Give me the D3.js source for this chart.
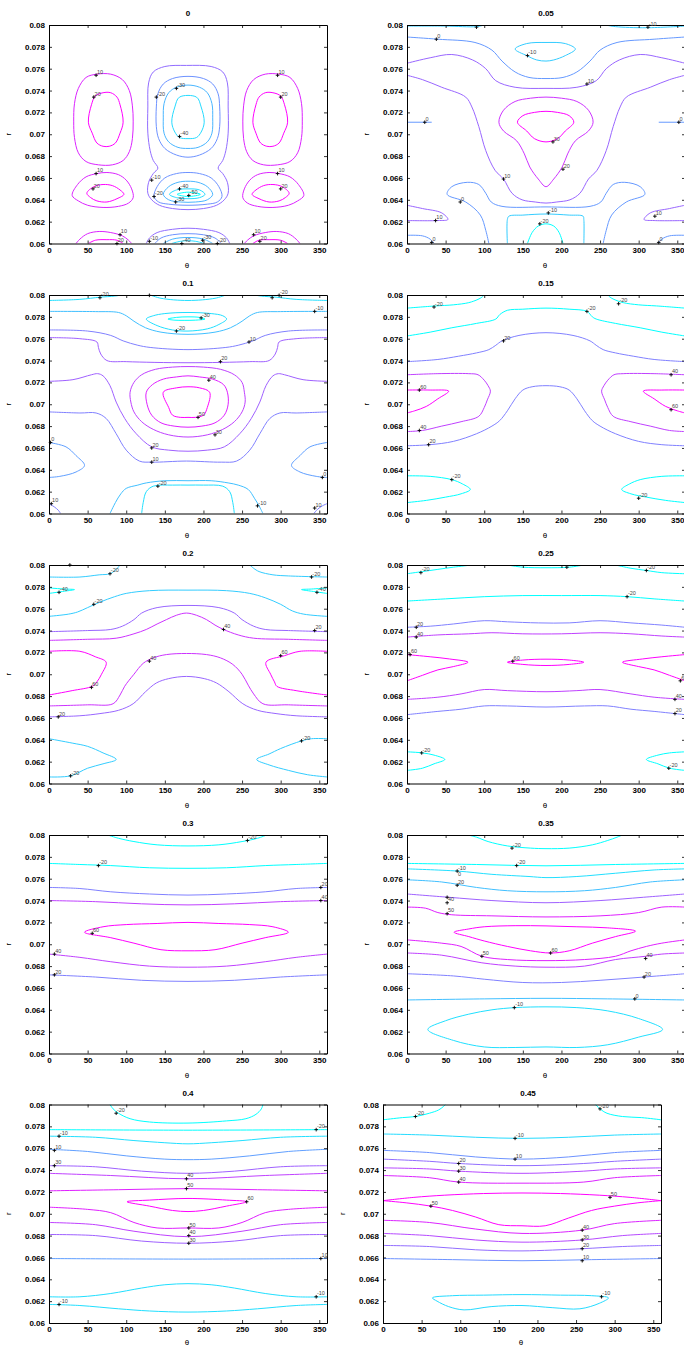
<!DOCTYPE html>
<html><head><meta charset="utf-8">
<script src="https://cdn.jsdelivr.net/npm/d3@7"></script>
<style>body{margin:0;background:#fff}svg{display:block}</style>
</head><body>
<script>
// ---------- DATA ----------
const panelTitles = ["0","0.05","0.1","0.15","0.2","0.25","0.3","0.35","0.4","0.45"];
const thetaTicks = [0,50,100,150,200,250,300,350];
const rTicks = [0.06,0.062,0.064,0.066,0.068,0.07,0.072,0.074,0.076,0.078,0.08];
const rTickLabels = ["0.06","0.062","0.064","0.066","0.068","0.07","0.072","0.074","0.076","0.078","0.08"];
// colour limits (value range) of each panel
const levelRange = [[-50,20],[-20,30],[-30,50],[-20,60],[-40,60],[-20,60],[-20,60],[-20,60],[-20,60],[-20,50]];

// contour lines: [level, closed, [[theta, r], ...]]
const contours0 = [
 [10,1,[[32,0.0712],[33,0.0728],[38,0.0742],[48,0.0752],[62,0.0755],[80,0.0755],[95,0.0750],[104,0.0740],[108,0.0726],[109,0.0712],[108,0.0696],[104,0.0684],[96,0.0676],[82,0.0672],[64,0.0672],[48,0.0675],[38,0.0683],[33,0.0697]]],
 [20,1,[[51,0.0711],[55,0.0727],[60,0.0735],[70,0.0738],[80,0.0738],[88,0.0734],[92,0.0727],[96,0.0711],[92,0.0701],[86,0.0692],[78,0.0689],[70,0.0689],[62,0.0692],[56,0.0701]]],
 [10,1,[[251,0.0712],[252,0.0726],[256,0.0740],[265,0.0750],[280,0.0755],[298,0.0755],[312,0.0752],[322,0.0742],[327,0.0728],[328,0.0712],[327,0.0697],[322,0.0683],[312,0.0675],[296,0.0672],[278,0.0672],[264,0.0676],[256,0.0684],[252,0.0696]]],
 [20,1,[[264,0.0711],[268,0.0727],[272,0.0734],[280,0.0738],[290,0.0738],[300,0.0735],[305,0.0727],[309,0.0711],[304,0.0701],[298,0.0692],[290,0.0689],[282,0.0689],[274,0.0692],[268,0.0701]]],
 [-10,1,[[178,0.0763],[150,0.0762],[135,0.0757],[129,0.0747],[128,0.0725],[128,0.0701],[131,0.0685],[135,0.0676],[141,0.0669],[135,0.0664],[129,0.0656],[128,0.0646],[133,0.0640],[143,0.0635],[160,0.0632],[180,0.0631],[200,0.0632],[217,0.0635],[227,0.0640],[232,0.0646],[231,0.0656],[225,0.0664],[219,0.0669],[225,0.0676],[229,0.0685],[232,0.0701],[232,0.0725],[231,0.0747],[225,0.0757],[210,0.0762]]],
 [-20,1,[[180,0.0753],[160,0.0751],[148,0.0746],[141,0.0737],[139,0.0725],[139,0.0707],[142,0.0696],[150,0.0687],[165,0.0681],[180,0.0679],[195,0.0681],[210,0.0687],[218,0.0696],[221,0.0707],[221,0.0725],[219,0.0737],[212,0.0746],[200,0.0751]]],
 [-30,1,[[180,0.0745],[165,0.0743],[155,0.0738],[149,0.0728],[148,0.0715],[149,0.0701],[155,0.0693],[167,0.0688],[180,0.0687],[193,0.0688],[205,0.0693],[211,0.0701],[212,0.0715],[211,0.0728],[205,0.0738],[195,0.0743]]],
 [-40,1,[[169,0.0734],[191,0.0734],[197,0.0725],[201,0.0711],[197,0.0702],[191,0.0697],[180,0.0696],[169,0.0697],[163,0.0702],[159,0.0711],[163,0.0725]]],
 [-20,1,[[136,0.0643],[140,0.0652],[150,0.0660],[165,0.0664],[180,0.0665],[195,0.0664],[210,0.0660],[220,0.0652],[224,0.0643],[218,0.0638],[205,0.0636],[180,0.0635],[155,0.0636],[142,0.0638]]],
 [-30,1,[[148,0.0645],[155,0.0652],[167,0.0656],[180,0.0657],[193,0.0656],[205,0.0652],[212,0.0645],[205,0.0640],[190,0.0638],[170,0.0638],[155,0.0640]]],
 [-40,1,[[156,0.0645],[165,0.0649],[180,0.0650],[195,0.0649],[202,0.0645],[195,0.0642],[180,0.0641],[165,0.0642]]],
 [-50,1,[[166,0.0645],[180,0.0647],[196,0.0645],[180,0.0643]]],
 [10,1,[[30,0.0644],[37,0.0654],[48,0.0661],[62,0.0664],[75,0.0665],[90,0.0663],[100,0.0658],[107,0.0650],[109,0.0642],[103,0.0637],[90,0.0634],[70,0.0633],[50,0.0635],[38,0.0639]]],
 [20,1,[[49,0.0646],[58,0.0652],[70,0.0654],[82,0.0653],[92,0.0649],[97,0.0645],[88,0.0641],[75,0.0638],[62,0.0639],[54,0.0642]]],
 [10,1,[[251,0.0642],[253,0.0650],[260,0.0658],[270,0.0663],[285,0.0665],[298,0.0664],[312,0.0661],[323,0.0654],[330,0.0644],[322,0.0639],[310,0.0635],[290,0.0633],[270,0.0634],[257,0.0637]]],
 [20,1,[[263,0.0645],[268,0.0649],[278,0.0653],[290,0.0654],[302,0.0652],[311,0.0646],[306,0.0642],[298,0.0639],[285,0.0638],[272,0.0641]]],
 [10,0,[[35,0.0600],[40,0.0604],[50,0.0609],[65,0.0611],[80,0.0610],[95,0.0607],[103,0.0603],[107,0.0600]]],
 [20,0,[[51,0.0600],[60,0.0603],[75,0.06035],[88,0.0603],[96,0.0600]]],
 [-10,0,[[126,0.0600],[130,0.0605],[140,0.0610],[160,0.0613],[180,0.0614],[200,0.0613],[220,0.0610],[230,0.0605],[234,0.0600]]],
 [-20,0,[[137,0.0600],[145,0.0605],[160,0.0608],[180,0.0609],[200,0.0608],[215,0.0605],[223,0.0600]]],
 [-30,0,[[148,0.0600],[160,0.0604],[180,0.06055],[200,0.0604],[212,0.0600]]],
 [-40,0,[[159,0.0600],[170,0.0602],[180,0.06025],[190,0.0602],[201,0.0600]]],
 [10,0,[[253,0.0600],[257,0.0603],[265,0.0607],[280,0.0610],[295,0.0611],[310,0.0609],[320,0.0604],[325,0.0600]]],
 [20,0,[[264,0.0600],[272,0.0603],[285,0.06035],[300,0.0603],[309,0.0600]]]
];
const labels0 = [[61,0.0754,"10"],[58,0.0734,"20"],[139,0.0734,"-20"],[165,0.0742,"-30"],[169,0.0698,"-40"],[296,0.0754,"10"],[300,0.0734,"20"],[61,0.0664,"10"],[57,0.0650,"20"],[133,0.0658,"-10"],[136,0.0643,"-20"],[169,0.0650,"-40"],[181,0.0644,"-50"],[164,0.0638,"-30"],[296,0.0664,"10"],[300,0.0650,"20"],[92,0.0608,"10"],[88,0.0600,"20"],[130,0.0602,"-10"],[172,0.0600,"-40"],[199,0.0603,"-30"],[218,0.0600,"-20"],[265,0.0608,"10"],[273,0.0602,"20"]];

const contours1 = [
 [-10,0,[[0,0.0799],[50,0.0799],[90,0.07985],[100,0.0800]]],
 [-10,0,[[257,0.0800],[270,0.07985],[310,0.07975],[360,0.0799]]],
 [0,0,[[0,0.0789],[40,0.0787],[88,0.0784],[110,0.0777],[123,0.0767],[140,0.0757],[158,0.0752],[180,0.0751],[202,0.0752],[220,0.0757],[237,0.0767],[250,0.0777],[272,0.0784],[320,0.0787],[360,0.0789]]],
 [-10,1,[[140,0.0778],[155,0.0783],[180,0.0784],[205,0.0783],[218,0.0778],[205,0.0772],[190,0.0768],[180,0.0767],[168,0.0768],[155,0.0772]]],
 [10,0,[[0,0.0765],[30,0.0770],[58,0.0773],[85,0.0768],[102,0.0760],[115,0.0749],[140,0.0743],[180,0.0742],[220,0.0743],[245,0.0749],[258,0.0760],[275,0.0768],[302,0.0773],[330,0.0770],[360,0.0765]]],
 [10,0,[[0,0.0754],[20,0.0750],[45,0.0743],[76,0.0734],[84,0.0725],[93,0.0707],[102,0.0685],[114,0.0667],[125,0.0659],[136,0.0646],[149,0.0640],[166,0.0638],[180,0.0637],[194,0.0638],[211,0.0640],[224,0.0646],[235,0.0659],[246,0.0667],[258,0.0685],[267,0.0707],[276,0.0725],[284,0.0734],[315,0.0743],[340,0.0750],[360,0.0754]]],
 [0,0,[[106,0.0600],[102,0.0612],[95,0.0626],[76,0.0638],[52,0.0645],[58,0.0652],[78,0.0656],[93,0.0654],[102,0.0646],[109,0.0638],[123,0.0634],[180,0.06335],[237,0.0634],[251,0.0638],[258,0.0646],[267,0.0654],[282,0.0656],[302,0.0652],[308,0.0645],[284,0.0638],[265,0.0626],[258,0.0612],[254,0.0600]]],
 [0,0,[[0,0.0711],[32,0.0711]]],
 [0,0,[[326,0.0711],[360,0.0711]]],
 [0,0,[[0,0.06075],[20,0.0607],[30,0.0604],[35,0.0600]]],
 [0,0,[[325,0.0600],[330,0.0604],[340,0.0607],[360,0.06075]]],
 [10,0,[[0,0.0635],[20,0.0632],[45,0.0628],[53,0.0622],[40,0.0621],[0,0.0621]]],
 [10,0,[[360,0.0635],[340,0.0632],[315,0.0628],[307,0.0622],[320,0.0621],[360,0.0621]]],
 [-10,0,[[130,0.0600],[130,0.0622],[132,0.0625],[150,0.0626],[180,0.0627],[210,0.0626],[228,0.0625],[229,0.0622],[229,0.0600]]],
 [-20,0,[[156,0.0600],[162,0.0610],[170,0.0616],[180,0.0618],[190,0.0616],[197,0.0610],[202,0.0600]]],
 [20,1,[[119,0.0711],[125,0.0722],[140,0.0730],[160,0.0733],[180,0.0734],[200,0.0733],[220,0.0730],[235,0.0722],[241,0.0711],[235,0.0703],[218,0.0694],[208,0.0682],[201,0.0670],[190,0.0659],[180,0.0652],[170,0.0659],[159,0.0670],[152,0.0682],[142,0.0694],[125,0.0703]]],
 [30,1,[[143,0.0711],[150,0.0717],[165,0.0720],[180,0.0721],[195,0.0720],[210,0.0717],[216,0.0711],[205,0.0703],[195,0.0696],[180,0.0693],[165,0.0696],[155,0.0703]]]
];
const labels1 = [[90,0.0798,""],[312,0.0798,"-10"],[38,0.0787,"0"],[156,0.0772,"-10"],[233,0.0746,"10"],[23,0.0711,"0"],[352,0.0711,"0"],[189,0.0693,"30"],[202,0.0668,"20"],[125,0.0659,"10"],[69,0.0638,"0"],[183,0.0628,"-10"],[172,0.0618,"-20"],[37,0.0621,"10"],[321,0.0625,"10"],[32,0.0601,"0"],[326,0.0601,"0"]];

const contours2 = [
 [-20,0,[[0,0.0795],[40,0.0796],[66,0.0798],[85,0.0799],[94,0.0800]]],
 [-20,0,[[131,0.0800],[145,0.0797],[180,0.0795],[215,0.0797],[229,0.0800]]],
 [-20,0,[[266,0.0800],[275,0.0799],[294,0.0798],[320,0.0796],[360,0.0795]]],
 [-10,0,[[0,0.0785],[60,0.07848],[90,0.0784],[100,0.0781],[110,0.0776],[125,0.0770],[145,0.0766],[180,0.0764],[215,0.0766],[235,0.0770],[250,0.0776],[260,0.0781],[270,0.0784],[300,0.07848],[360,0.0785]]],
 [-20,1,[[126,0.0778],[135,0.0781],[150,0.0783],[180,0.0784],[210,0.0783],[225,0.0781],[230,0.0778],[220,0.0773],[205,0.0769],[180,0.0767],[160,0.0768],[140,0.0772]]],
 [-30,1,[[154,0.0778],[165,0.07795],[180,0.0780],[195,0.07795],[202,0.0778],[190,0.0777],[175,0.07768],[162,0.0777]]],
 [10,0,[[0,0.0768],[50,0.0767],[80,0.0763],[96,0.0758],[115,0.0754],[131,0.0752],[180,0.0750],[229,0.0752],[245,0.0754],[264,0.0758],[280,0.0763],[310,0.0767],[360,0.0768]]],
 [20,0,[[0,0.0761],[40,0.0760],[62,0.0757],[64,0.0752],[67,0.0746],[75,0.0740],[100,0.0739],[180,0.0738],[260,0.0739],[285,0.0740],[293,0.0746],[296,0.0752],[298,0.0757],[320,0.0760],[360,0.0761]]],
 [20,0,[[0,0.0721],[31,0.07225],[55,0.0727],[63,0.0728],[70,0.0726],[79,0.0717],[87,0.0702],[98,0.0687],[113,0.0673],[133,0.0661],[155,0.0658],[180,0.0657],[205,0.0658],[227,0.0661],[247,0.0673],[262,0.0687],[273,0.0702],[281,0.0717],[290,0.0726],[297,0.0728],[305,0.0727],[329,0.07225],[360,0.0721]]],
 [30,1,[[105,0.0711],[106,0.0702],[110,0.0693],[120,0.0684],[135,0.0677],[155,0.0672],[180,0.0670],[205,0.0672],[225,0.0677],[240,0.0684],[250,0.0693],[254,0.0702],[253,0.0711],[250,0.0720],[240,0.0727],[222,0.0732],[200,0.0734],[180,0.07345],[160,0.0734],[138,0.0732],[120,0.0727],[110,0.0720]]],
 [40,1,[[126,0.0711],[127,0.0700],[133,0.0690],[145,0.0683],[162,0.0680],[180,0.0679],[198,0.0680],[215,0.0683],[227,0.0690],[232,0.0700],[231,0.0711],[226,0.0718],[212,0.0723],[195,0.0725],[180,0.0726],[165,0.0725],[148,0.0723],[134,0.0718]]],
 [50,1,[[148,0.0711],[155,0.0697],[160,0.0690],[170,0.0688],[180,0.0688],[190,0.0688],[200,0.0690],[205,0.0697],[208,0.0711],[195,0.0715],[180,0.0716],[165,0.0715]]],
 [10,0,[[0,0.0693],[40,0.0692],[61,0.0692],[74,0.0687],[87,0.0673],[100,0.0658],[117,0.0648],[133,0.0647],[178,0.0648],[223,0.0647],[243,0.0648],[260,0.0658],[273,0.0673],[286,0.0687],[299,0.0692],[320,0.0692],[360,0.0693]]],
 [0,0,[[0,0.0665],[22,0.0661],[35,0.0653],[46,0.0644],[35,0.0638],[14,0.0634],[0,0.0633]]],
 [0,0,[[360,0.0665],[338,0.0661],[325,0.0653],[314,0.0644],[325,0.0638],[346,0.0634],[360,0.0633]]],
 [-10,0,[[79,0.0600],[86,0.0610],[93,0.0618],[100,0.0623],[115,0.0626],[126,0.0628],[150,0.0630],[180,0.0630],[210,0.0630],[232,0.0628],[245,0.0626],[258,0.0622],[266,0.0614],[272,0.0607],[277,0.0600]]],
 [-20,0,[[120,0.0600],[122,0.0610],[126,0.0620],[135,0.0625],[160,0.0626],[180,0.0626],[200,0.0626],[225,0.0625],[234,0.0620],[238,0.0610],[240,0.0600]]],
 [10,0,[[0,0.0609],[7,0.0606],[12,0.0603],[15,0.0600]]],
 [10,0,[[343,0.0600],[348,0.0604],[354,0.0607],[360,0.0609]]]
];
const labels2 = [[66,0.07975,"-20"],[130,0.07997,""],[289,0.07975,""],[298,0.07997,"-20"],[344,0.0785,"-10"],[197,0.0779,"-30"],[165,0.0767,"-20"],[259,0.0757,"10"],[222,0.0739,"20"],[207,0.0722,"40"],[193,0.0688,"50"],[215,0.0672,"30"],[2,0.0665,"0"],[133,0.0660,"20"],[133,0.0647,"10"],[141,0.0625,"-20"],[3,0.0609,"10"],[270,0.0607,"-10"],[344,0.0605,"10"],[354,0.0633,"0"]];

const contours3 = [
 [-20,0,[[0,0.0788],[37,0.0790],[60,0.0791],[80,0.0793],[92,0.0796],[97,0.0798],[100,0.0800]]],
 [-20,0,[[260,0.0800],[263,0.0798],[268,0.0796],[280,0.0793],[300,0.0791],[323,0.0790],[360,0.0788]]],
 [-20,0,[[0,0.07625],[30,0.0766],[58,0.0770],[90,0.0774],[115,0.0778],[120,0.0782],[130,0.0786],[150,0.0787],[180,0.0788],[210,0.0787],[233,0.0785],[240,0.0780],[245,0.0778],[270,0.0774],[302,0.0770],[330,0.0766],[360,0.07625]]],
 [20,0,[[0,0.0739],[40,0.0741],[67,0.0744],[90,0.0747],[106,0.0750],[115,0.0754],[123,0.0758],[145,0.0763],[180,0.07655],[215,0.0763],[237,0.0758],[245,0.0754],[254,0.0750],[270,0.0747],[293,0.0744],[320,0.0741],[360,0.0739]]],
 [40,0,[[0,0.0727],[40,0.0728],[80,0.0728],[92,0.0727],[100,0.0722],[105,0.0717],[108,0.0712],[104,0.0704],[100,0.0697],[93,0.0689],[70,0.0684],[45,0.0680],[20,0.0676],[0,0.0675]]],
 [60,0,[[0,0.0713],[30,0.0713],[54,0.0712],[40,0.0705],[25,0.0698],[10,0.0694],[0,0.0692]]],
 [40,0,[[360,0.0727],[320,0.0728],[280,0.0728],[268,0.0727],[260,0.0722],[255,0.0717],[252,0.0712],[256,0.0704],[260,0.0697],[267,0.0689],[290,0.0684],[315,0.0680],[340,0.0676],[360,0.0675]]],
 [60,0,[[360,0.0713],[330,0.0713],[306,0.0712],[320,0.0705],[335,0.0698],[350,0.0694],[360,0.0692]]],
 [20,0,[[0,0.0662],[30,0.0663],[60,0.0666],[90,0.0673],[110,0.0680],[120,0.0685],[130,0.0694],[140,0.0705],[150,0.0713],[162,0.0716],[180,0.0717],[198,0.0716],[210,0.0713],[220,0.0705],[230,0.0694],[240,0.0685],[250,0.0680],[270,0.0673],[300,0.0666],[330,0.0663],[360,0.0662]]],
 [-20,0,[[0,0.06345],[30,0.0634],[58,0.0631],[72,0.0627],[82,0.0622],[70,0.0618],[50,0.0615],[25,0.0612],[0,0.0610]]],
 [-20,0,[[360,0.06345],[330,0.0634],[302,0.0631],[288,0.0627],[278,0.0622],[290,0.0618],[310,0.0615],[335,0.0612],[360,0.0610]]]
];
const labels3 = [[35,0.0789,"-20"],[274,0.0792,"-20"],[233,0.0785,"-20"],[125,0.0758,"20"],[16,0.0713,"60"],[342,0.0727,"40"],[342,0.0695,"60"],[16,0.0676,"40"],[28,0.0663,"20"],[58,0.0631,"-20"],[300,0.0614,"-20"]];

const contours4 = [
 [-20,0,[[0,0.0789],[40,0.0789],[65,0.0791],[79,0.0792],[87,0.0796],[92,0.0800]]],
 [-20,0,[[260,0.0800],[265,0.0797],[272,0.0794],[290,0.0791],[310,0.0790],[360,0.0789]]],
 [-40,0,[[0,0.0779],[20,0.0778],[33,0.07775],[20,0.0776],[0,0.0774]]],
 [-40,0,[[360,0.0779],[340,0.0778],[327,0.07775],[340,0.0776],[360,0.0774]]],
 [-20,0,[[0,0.0753],[25,0.0755],[37,0.0757],[50,0.0761],[66,0.0766],[85,0.0771],[100,0.0774],[130,0.07765],[180,0.0777],[230,0.07765],[260,0.0774],[280,0.0770],[300,0.0764],[315,0.0758],[330,0.0755],[360,0.0753]]],
 [20,0,[[0,0.0739],[50,0.0740],[80,0.0741],[95,0.0744],[110,0.0750],[120,0.0756],[140,0.0761],[180,0.0763],[220,0.0761],[240,0.0756],[250,0.0750],[265,0.0744],[280,0.0741],[310,0.0740],[360,0.0739]]],
 [40,0,[[0,0.0731],[50,0.0732],[87,0.0733],[110,0.0737],[126,0.0741],[140,0.0746],[152,0.0750],[165,0.0754],[178,0.0756],[191,0.0754],[204,0.0750],[215,0.0745],[226,0.0741],[245,0.0736],[265,0.0733],[310,0.0732],[360,0.0731]]],
 [60,0,[[0,0.0721],[40,0.0721],[60,0.0716],[74,0.0711],[68,0.0700],[62,0.0693],[56,0.0689],[30,0.0685],[0,0.0681]]],
 [60,0,[[360,0.0721],[325,0.0721],[305,0.0717],[281,0.0711],[287,0.0700],[292,0.0693],[295,0.0689],[320,0.0685],[360,0.0681]]],
 [40,0,[[0,0.0671],[50,0.0672],[83,0.0673],[92,0.0681],[98,0.0689],[110,0.0700],[122,0.0710],[135,0.0715],[152,0.0718],[178,0.0719],[204,0.0718],[222,0.0715],[238,0.0709],[250,0.0700],[258,0.0690],[265,0.0682],[277,0.0673],[310,0.0672],[360,0.0671]]],
 [20,0,[[0,0.0661],[40,0.0662],[66,0.0664],[90,0.0667],[109,0.0673],[125,0.0684],[139,0.0692],[155,0.0696],[178,0.0698],[201,0.0696],[217,0.0692],[233,0.0684],[251,0.0673],[270,0.0667],[294,0.0664],[320,0.0662],[360,0.0661]]],
 [-20,0,[[0,0.0641],[30,0.0637],[50,0.0634],[70,0.0628],[87,0.0622],[70,0.0618],[50,0.0614],[28,0.0607],[0,0.0606]]],
 [-20,0,[[360,0.0641],[340,0.0641],[327,0.0639],[300,0.0632],[285,0.0627],[269,0.0622],[285,0.0617],[310,0.0612],[335,0.0608],[360,0.0606]]]
];
const labels4 = [[27,0.0800,""],[79,0.0792,"-20"],[340,0.0789,"-20"],[13,0.0775,"-40"],[347,0.0775,"-40"],[58,0.0764,"-20"],[344,0.0740,"20"],[226,0.0741,"40"],[300,0.0717,"60"],[130,0.0712,"40"],[55,0.0688,"60"],[12,0.0661,"20"],[327,0.0639,"-20"],[28,0.0607,"-20"]];

const contours5 = [
 [-20,0,[[0,0.0792],[20,0.0794],[40,0.0796],[60,0.0798],[84,0.0800]]],
 [-20,0,[[130,0.0800],[150,0.0798],[180,0.07975],[210,0.0798],[229,0.0800]]],
 [-20,0,[[270,0.0800],[290,0.0797],[310,0.0795],[330,0.0793],[360,0.0792]]],
 [-20,0,[[0,0.0767],[50,0.0769],[100,0.0771],[150,0.0772],[200,0.0772],[250,0.0772],[285,0.0771],[320,0.0769],[360,0.0767]]],
 [20,0,[[0,0.0743],[30,0.0744],[60,0.0746],[100,0.0749],[130,0.0748],[170,0.0747],[210,0.0747],[250,0.0749],[290,0.0747],[330,0.0745],[360,0.0743]]],
 [40,0,[[0,0.0734],[40,0.0736],[80,0.0737],[110,0.0738],[150,0.0737],[200,0.0737],[250,0.0738],[290,0.0737],[330,0.0735],[360,0.0734]]],
 [60,0,[[0,0.0718],[30,0.0716],[55,0.0714],[79,0.0711],[60,0.0707],[40,0.0704],[20,0.0699],[0,0.0694]]],
 [60,1,[[130,0.0711],[150,0.0713],[180,0.07138],[210,0.0713],[229,0.0711],[210,0.0709],[180,0.0708],[150,0.0709]]],
 [60,0,[[360,0.0718],[330,0.0716],[305,0.0714],[279,0.0711],[300,0.0707],[320,0.0704],[340,0.0699],[360,0.0694]]],
 [40,0,[[0,0.0677],[40,0.0679],[70,0.0682],[100,0.0686],[130,0.0685],[180,0.0684],[220,0.0685],[250,0.0686],[290,0.0682],[320,0.0679],[360,0.0677]]],
 [20,0,[[0,0.0663],[40,0.0666],[70,0.0668],[100,0.0671],[130,0.0671],[180,0.0670],[230,0.0671],[260,0.0671],[290,0.0668],[320,0.0666],[360,0.0663]]],
 [-20,0,[[0,0.0629],[20,0.0628],[35,0.0626],[49,0.0622],[35,0.0618],[20,0.0614],[0,0.0612]]],
 [-20,0,[[360,0.0629],[340,0.0628],[325,0.0626],[310,0.0622],[325,0.0618],[340,0.0614],[360,0.0612]]]
];
const labels5 = [[18,0.0793,"-20"],[207,0.0798,""],[310,0.0795,"-20"],[285,0.0771,"-20"],[12,0.0743,"20"],[12,0.0734,"40"],[4,0.0718,"60"],[137,0.0712,"60"],[354,0.0694,"60"],[347,0.0677,"40"],[347,0.0664,"20"],[19,0.0628,"-20"],[339,0.0614,"-20"]];

const contours6 = [
 [-20,0,[[76,0.0800],[90,0.0797],[110,0.0794],[140,0.0791],[180,0.0790],[220,0.0791],[250,0.0794],[270,0.0797],[282,0.0800]]],
 [-20,0,[[0,0.0774],[40,0.0773],[80,0.0772],[130,0.0770],[180,0.07695],[230,0.0770],[280,0.0772],[320,0.0773],[360,0.0774]]],
 [20,0,[[0,0.0752],[40,0.0751],[80,0.0748],[130,0.0746],[180,0.0745],[230,0.0746],[280,0.0748],[320,0.0751],[360,0.0752]]],
 [40,0,[[0,0.0740],[60,0.0739],[120,0.0737],[180,0.0736],[240,0.0737],[300,0.0739],[360,0.0740]]],
 [60,1,[[46,0.0711],[70,0.0716],[100,0.0718],[140,0.0719],[180,0.0720],[220,0.0719],[260,0.0718],[290,0.0716],[310,0.0711],[280,0.0706],[250,0.0701],[215,0.0695],[180,0.0694],[145,0.0695],[110,0.0701],[80,0.0706]]],
 [40,0,[[0,0.0691],[40,0.0688],[80,0.0684],[130,0.0680],[180,0.0679],[230,0.0680],[280,0.0684],[320,0.0688],[360,0.0691]]],
 [20,0,[[0,0.0672],[60,0.0670],[120,0.0667],[180,0.0666],[240,0.0667],[300,0.0670],[360,0.0672]]]
];
const labels6 = [[257,0.0795,"-20"],[64,0.0772,"-20"],[352,0.0752,"20"],[352,0.0740,"40"],[56,0.0710,"60"],[7,0.0691,"40"],[7,0.0672,"20"]];

const contours7 = [
 [-20,0,[[79,0.0800],[90,0.0798],[105,0.0794],[130,0.0790],[160,0.0788],[180,0.07875],[210,0.0788],[240,0.0791],[260,0.0795],[272,0.0798],[279,0.0800]]],
 [-20,0,[[0,0.0774],[90,0.0773],[180,0.07718],[270,0.0773],[360,0.0774]]],
 [-10,0,[[0,0.0769],[65,0.0767],[110,0.0764],[158,0.0762],[180,0.0761],[220,0.0762],[270,0.0765],[320,0.0768],[360,0.0769]]],
 [0,0,[[0,0.0759],[45,0.0757],[90,0.0752],[130,0.0749],[180,0.0748],[230,0.0749],[270,0.0752],[315,0.0757],[360,0.0759]]],
 [30,0,[[0,0.0746],[54,0.0743],[110,0.0740],[180,0.0738],[250,0.0740],[306,0.0743],[360,0.0746]]],
 [50,0,[[0,0.0734],[24,0.0733],[40,0.0729],[58,0.0727],[110,0.0726],[180,0.0725],[250,0.0726],[300,0.0729],[330,0.0734],[360,0.0734]]],
 [60,1,[[61,0.0711],[80,0.0714],[100,0.0716],[140,0.0717],[180,0.07168],[220,0.0716],[260,0.0715],[296,0.0712],[270,0.0707],[240,0.0701],[210,0.0694],[186,0.0692],[160,0.0694],[130,0.0698],[100,0.0703],[80,0.0707]]],
 [50,0,[[0,0.0704],[45,0.0701],[70,0.0698],[97,0.0689],[130,0.0686],[180,0.0685],[230,0.0686],[270,0.0689],[290,0.0694],[310,0.0698],[330,0.0701],[360,0.0704]]],
 [40,0,[[0,0.0692],[45,0.0690],[97,0.0683],[140,0.0680],[180,0.0679],[230,0.0680],[270,0.0686],[309,0.0689],[330,0.0691],[360,0.0692]]],
 [20,0,[[0,0.0673],[60,0.0671],[100,0.0668],[150,0.0665],[200,0.0665],[250,0.0667],[307,0.0670],[360,0.0673]]],
 [0,0,[[0,0.0649],[100,0.0650],[180,0.06505],[260,0.0650],[360,0.0649]]],
 [-10,1,[[27,0.0622],[50,0.0630],[80,0.0636],[110,0.0640],[140,0.0642],[180,0.06427],[220,0.0642],[260,0.0639],[300,0.0632],[331,0.0622],[300,0.0615],[260,0.0608],[220,0.06055],[180,0.0606],[140,0.06055],[100,0.0606],[60,0.0612]]]
];
const labels7 = [[136,0.0788,"-20"],[142,0.0772,"-20"],[65,0.0767,"-10"],[65,0.07615,"0",0],[65,0.0754,"20"],[52,0.0743,""],[52,0.0738,"40"],[52,0.0728,"50"],[186,0.0692,"60"],[97,0.0689,"50"],[309,0.0687,"40"],[307,0.0670,"20"],[295,0.0650,"0"],[139,0.0642,"-10"]];

const contours8 = [
 [-20,0,[[79,0.0800],[83,0.0796],[90,0.0792],[105,0.0787],[130,0.0784],[180,0.0783],[230,0.0785],[255,0.0787],[268,0.0791],[275,0.0796],[277,0.0800]]],
 [-20,0,[[0,0.0777],[180,0.07765],[360,0.0777]]],
 [-10,0,[[0,0.0771],[60,0.0770],[110,0.0767],[150,0.0765],[180,0.0764],[210,0.0765],[250,0.0767],[300,0.0770],[360,0.0771]]],
 [10,0,[[0,0.0759],[50,0.0757],[100,0.0753],[150,0.0750],[180,0.07495],[210,0.0750],[260,0.0753],[310,0.0757],[360,0.0759]]],
 [30,0,[[0,0.0744],[60,0.0743],[120,0.0739],[180,0.0737],[240,0.0739],[300,0.0743],[360,0.0744]]],
 [40,0,[[0,0.0737],[80,0.0735],[180,0.0732],[280,0.0735],[360,0.0737]]],
 [50,0,[[0,0.0721],[90,0.0722],[180,0.0723],[270,0.0722],[360,0.0721]]],
 [60,1,[[101,0.0711],[130,0.07125],[180,0.0714],[230,0.07125],[256,0.0711],[230,0.0707],[200,0.0703],[180,0.0702],[160,0.0703],[130,0.0707]]],
 [50,0,[[0,0.0706],[50,0.0704],[80,0.0701],[110,0.0692],[140,0.0687],[180,0.0687],[220,0.0687],[250,0.0692],[280,0.0701],[310,0.0704],[360,0.0706]]],
 [40,0,[[0,0.0692],[60,0.0690],[110,0.0684],[180,0.0679],[250,0.0684],[300,0.0690],[360,0.0692]]],
 [30,0,[[0,0.0681],[60,0.0680],[120,0.0675],[180,0.0673],[240,0.0675],[300,0.0680],[360,0.0681]]],
 [10,0,[[0,0.0659],[180,0.06585],[360,0.0659]]],
 [-10,0,[[0,0.0624],[40,0.0624],[80,0.0627],[120,0.0632],[150,0.0635],[180,0.0636],[210,0.0635],[240,0.0632],[280,0.0627],[320,0.0624],[360,0.0624]]],
 [-10,0,[[0,0.0617],[40,0.0616],[90,0.0613],[130,0.0611],[180,0.0610],[230,0.0611],[270,0.0613],[320,0.0616],[360,0.0617]]]
];
const labels8 = [[87,0.0792,"-20"],[346,0.0777,"-20"],[13,0.0771,"-10"],[7,0.0758,"10"],[7,0.0744,"30"],[178,0.0732,"40"],[178,0.0723,"50"],[256,0.0711,"60"],[181,0.0687,"50"],[181,0.0680,"40"],[181,0.0673,"30"],[352,0.0659,"10"],[346,0.0624,"-10"],[13,0.0617,"-10"]];

const contours9 = [
 [-20,0,[[0,0.0786],[25,0.0788],[42,0.0789],[60,0.0792],[72,0.0795],[78,0.0798],[81,0.0800]]],
 [-20,0,[[275,0.0800],[281,0.0796],[290,0.0792],[310,0.0789],[335,0.0788],[360,0.0786]]],
 [-10,0,[[0,0.0773],[60,0.0772],[120,0.0770],[180,0.0769],[240,0.0770],[300,0.0772],[360,0.0773]]],
 [10,0,[[0,0.0758],[60,0.0756],[120,0.0752],[180,0.0750],[240,0.0752],[300,0.0756],[360,0.0758]]],
 [20,0,[[0,0.0750],[60,0.0748],[98,0.0746],[180,0.0744],[260,0.0746],[300,0.0748],[360,0.0750]]],
 [30,0,[[0,0.0742],[60,0.0741],[98,0.0739],[180,0.0737],[260,0.0739],[300,0.0741],[360,0.0742]]],
 [40,0,[[0,0.0735],[60,0.0733],[98,0.0729],[180,0.0728],[260,0.0729],[300,0.0733],[360,0.0735]]],
 [50,0,[[0,0.0712],[40,0.0715],[80,0.0717],[130,0.07185],[180,0.0719],[230,0.07185],[280,0.0717],[320,0.0715],[360,0.0712]]],
 [50,0,[[0,0.0712],[30,0.0710],[62,0.0707],[90,0.0703],[120,0.0697],[150,0.0690],[180,0.0689],[210,0.0689],[240,0.0696],[270,0.0703],[300,0.0707],[330,0.0710],[360,0.0712]]],
 [40,0,[[0,0.0694],[60,0.0692],[120,0.0686],[180,0.0682],[258,0.0685],[300,0.0691],[360,0.0694]]],
 [30,0,[[0,0.0682],[60,0.0680],[120,0.0676],[180,0.0674],[258,0.0676],[310,0.0680],[360,0.0682]]],
 [20,0,[[0,0.0671],[60,0.0670],[120,0.0667],[180,0.0666],[258,0.0668],[310,0.0670],[360,0.0671]]],
 [10,0,[[0,0.0659],[90,0.0658],[180,0.0657],[270,0.0658],[360,0.0659]]],
 [-10,1,[[64,0.0623],[90,0.0625],[130,0.06255],[180,0.0626],[230,0.06255],[270,0.0625],[292,0.0623],[280,0.0618],[255,0.0613],[220,0.0614],[180,0.0616],[140,0.0615],[105,0.0612],[85,0.0615],[70,0.0620]]]
];
const labels9 = [[42,0.0789,"-20"],[281,0.0796,"-20"],[171,0.0769,"-10"],[171,0.0750,"10"],[98,0.0746,"20"],[98,0.0739,"30"],[98,0.0729,"40"],[294,0.0715,"50"],[62,0.0707,"50"],[258,0.0685,"40"],[258,0.0676,"30"],[258,0.0668,"20"],[258,0.0657,"10"],[283,0.0624,"-10"]];

const allContours = [contours0,contours1,contours2,contours3,contours4,contours5,contours6,contours7,contours8,contours9];
const allLabels = [labels0,labels1,labels2,labels3,labels4,labels5,labels6,labels7,labels8,labels9];

// ---------- LAYOUT / STYLE ----------
const W = 684, H = 1347;
const rowTops = [25, 295, 565, 835, 1104.5];
const PW = 278, PH = 218.5;
const FONT = "'Liberation Sans', Arial, sans-serif";

const svg = d3.select("body").append("svg").attr("width", W).attr("height", H);
const defs = svg.append("defs");

panelTitles.forEach((title, i) => {
  const col = i % 2, row = Math.floor(i / 2);
  let x0 = col ? 407 : 49;
  if (i === 9) x0 = 383;
  const y0 = rowTops[row];
  const x = d3.scaleLinear().domain([0, 360]).range([x0, x0 + PW]);
  const y = d3.scaleLinear().domain([0.06, 0.08]).range([y0 + PH, y0]);
  const [lo, hi] = levelRange[i];
  const color = lvl => d3.interpolateRgb("#00ffff", "#ff00ff")((lvl - lo) / (hi - lo));

  const g = svg.append("g");
  const cid = "clip" + i;
  defs.append("clipPath").attr("id", cid).append("rect")
    .attr("x", x0).attr("y", y0).attr("width", PW).attr("height", PH);

  const lg = g.append("g").attr("clip-path", `url(#${cid})`);
  allContours[i].forEach(([lvl, closed, pts]) => {
    const line = d3.line().x(d => x(d[0])).y(d => y(d[1]))
      .curve(closed ? d3.curveCatmullRomClosed.alpha(0.5) : d3.curveCatmullRom.alpha(0.5));
    lg.append("path").attr("d", line(pts)).attr("fill", "none")
      .attr("stroke", color(lvl)).attr("stroke-width", 1);
  });

  // axes
  const styleAxis = a => {
    a.attr("font-family", FONT).attr("font-size", 8).attr("font-weight", "bold");
    a.selectAll("path.domain").attr("stroke", "#000").attr("stroke-width", 1);
    a.selectAll(".tick line").attr("stroke", "#000").attr("stroke-width", 0.8);
    a.selectAll(".tick text").attr("fill", "#000");
  };
  styleAxis(g.append("g").attr("transform", `translate(0,${y0 + PH})`)
    .call(d3.axisBottom(x).tickValues(thetaTicks).tickSizeInner(-3).tickSizeOuter(0).tickPadding(3.5)));
  styleAxis(g.append("g").attr("transform", `translate(0,${y0})`)
    .call(d3.axisTop(x).tickValues(thetaTicks).tickSizeInner(-3).tickSizeOuter(0).tickFormat("")));
  styleAxis(g.append("g").attr("transform", `translate(${x0},0)`)
    .call(d3.axisLeft(y).tickValues(rTicks).tickFormat((d, k) => rTickLabels[k]).tickSizeInner(-3).tickSizeOuter(0).tickPadding(4)));
  styleAxis(g.append("g").attr("transform", `translate(${x0 + PW},0)`)
    .call(d3.axisRight(y).tickValues(rTicks).tickSizeInner(-3).tickSizeOuter(0).tickFormat("")));

  // contour labels
  const lab = g.append("g");
  allLabels[i].forEach(([t, r, txt, mark]) => {
    const px = x(t), py = y(r);
    if (mark !== 0) {
      lab.append("path").attr("d", `M${px - 1.8},${py}H${px + 1.8}M${px},${py - 1.8}V${py + 1.8}`)
        .attr("stroke", "#000").attr("stroke-width", 0.9);
    }
    if (txt) lab.append("text").attr("x", px + 0.8).attr("y", py - 1.3)
      .attr("font-family", FONT).attr("font-size", 5.5).attr("fill", "#444").text(txt);
  });

  // title & axis labels
  const tx = i === 9 ? 528 : x0 + PW / 2;
  g.append("text").attr("x", tx).attr("y", y0 - 9).attr("text-anchor", "middle")
    .attr("font-family", FONT).attr("font-size", 8).attr("font-weight", "bold").text(title);
  g.append("text").attr("x", x0 + PW / 2 - 1).attr("y", y0 + PH + (row === 4 ? 22 : 24.5)).attr("text-anchor", "middle")
    .attr("font-family", FONT).attr("font-size", 8).text("θ");
  g.append("text").attr("transform", `translate(${x0 - 38},${y0 + PH / 2}) rotate(-90)`)
    .attr("text-anchor", "middle").attr("font-family", FONT).attr("font-size", 8).text("r");
});
</script>
</body></html>
